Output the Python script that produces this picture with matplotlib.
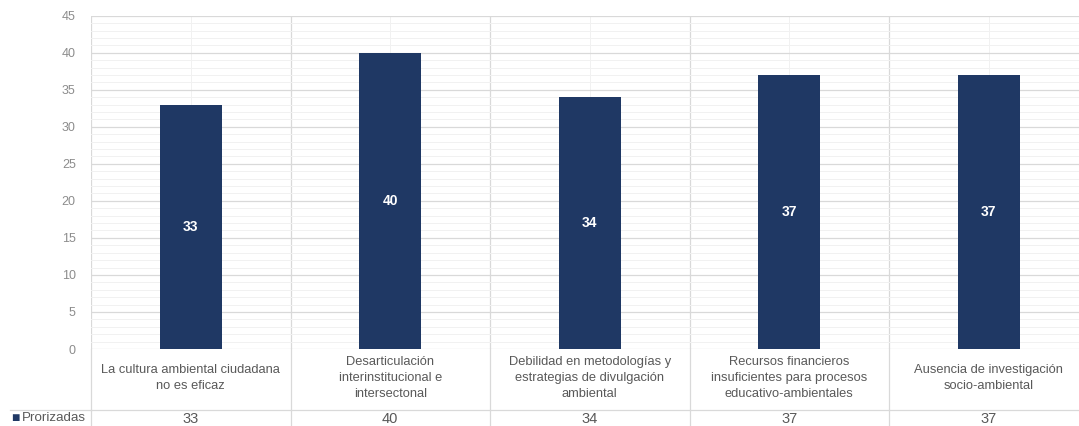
import numpy as np
import matplotlib.pyplot as plt
from matplotlib.ticker import MultipleLocator
import matplotlib.transforms as mtransforms

categorias = [
    "La cultura ambiental ciudadana\nno es eficaz",
    "Desarticulación\ninterinstitucional e\nintersectonal",
    "Debilidad en metodologías y\nestrategias de divulgación\nambiental",
    "Recursos financieros\ninsuficientes para procesos\neducativo-ambientales",
    "Ausencia de investigación\nsocio-ambiental",
]
valores = [33, 40, 34, 37, 37]
serie = "Prorizadas"

azul = "#1F3864"
gris = "#595959"
fuente = ["Liberation Sans Narrow", "Liberation Sans", "DejaVu Sans"]

fig = plt.figure(figsize=(10.79, 4.26), dpi=100)
ax = fig.add_axes([91 / 1079, 77 / 426, 5 * 199.5 / 1079, 333.3 / 426])

x = np.arange(len(valores))
ax.bar(x, valores, width=0.31, color=azul, zorder=3)
for xi, v in zip(x, valores):
    ax.text(xi, v / 2, str(v), ha="center", va="center", color="white",
            fontsize=10, fontweight="bold", family=fuente, zorder=4)

ax.set_xlim(-0.5, len(valores) - 0.5)
ax.set_ylim(0, 45)
ax.yaxis.set_major_locator(MultipleLocator(5))
ax.yaxis.set_minor_locator(MultipleLocator(1))
ax.set_xticks([])
ax.grid(axis="y", which="major", color="#D9D9D9", lw=0.9, zorder=0)
ax.grid(axis="y", which="minor", color="#F1F1F1", lw=0.7, zorder=0)
for xi in x:
    ax.axvline(xi, color="#F1F1F1", lw=0.7, zorder=0)
for b in np.arange(-0.5, len(valores), 1.0):
    ax.axvline(b, color="#D9D9D9", lw=0.9, zorder=1)
for s in ax.spines.values():
    s.set_visible(False)
ax.tick_params(axis="y", which="both", length=0, pad=11, labelsize=9,
               labelcolor="#8C8C8C")
for lb in ax.get_yticklabels():
    lb.set_family(fuente)

# tabla de datos debajo del eje
tr = mtransforms.blended_transform_factory(ax.transData, ax.transAxes)
h = ax.get_position().height * 426
y_sep = -61 / h
y_fin = -80 / h
ax.plot([-0.5, len(valores) - 0.5], [y_sep, y_sep], transform=tr,
        color="#D9D9D9", lw=0.9, clip_on=False)
fig.add_artist(plt.Line2D([10 / 1079, 91 / 1079], [(426 - 410) / 426] * 2,
                          color="#D9D9D9", lw=0.9))
for b in np.arange(-0.5, len(valores), 1.0):
    ax.plot([b, b], [0, y_fin], transform=tr, color="#D9D9D9", lw=0.9,
            clip_on=False)
for xi, c, v in zip(x, categorias, valores):
    ax.text(xi, -29 / h, c, transform=tr, ha="center", va="center",
            fontsize=9.3, color=gris, family=fuente, linespacing=1.4)
    ax.text(xi, -70 / h, str(v), transform=tr, ha="center", va="center",
            fontsize=10.5, color=gris, family=fuente)
fig.text(11 / 1079, (426 - 418) / 426, "■", color=azul, fontsize=10,
         va="center", ha="left", family=fuente)
fig.text(22 / 1079, (426 - 418) / 426, serie, color=gris, fontsize=9.6,
         va="center", ha="left", family=fuente)

fig.savefig("out.png", dpi=100)
